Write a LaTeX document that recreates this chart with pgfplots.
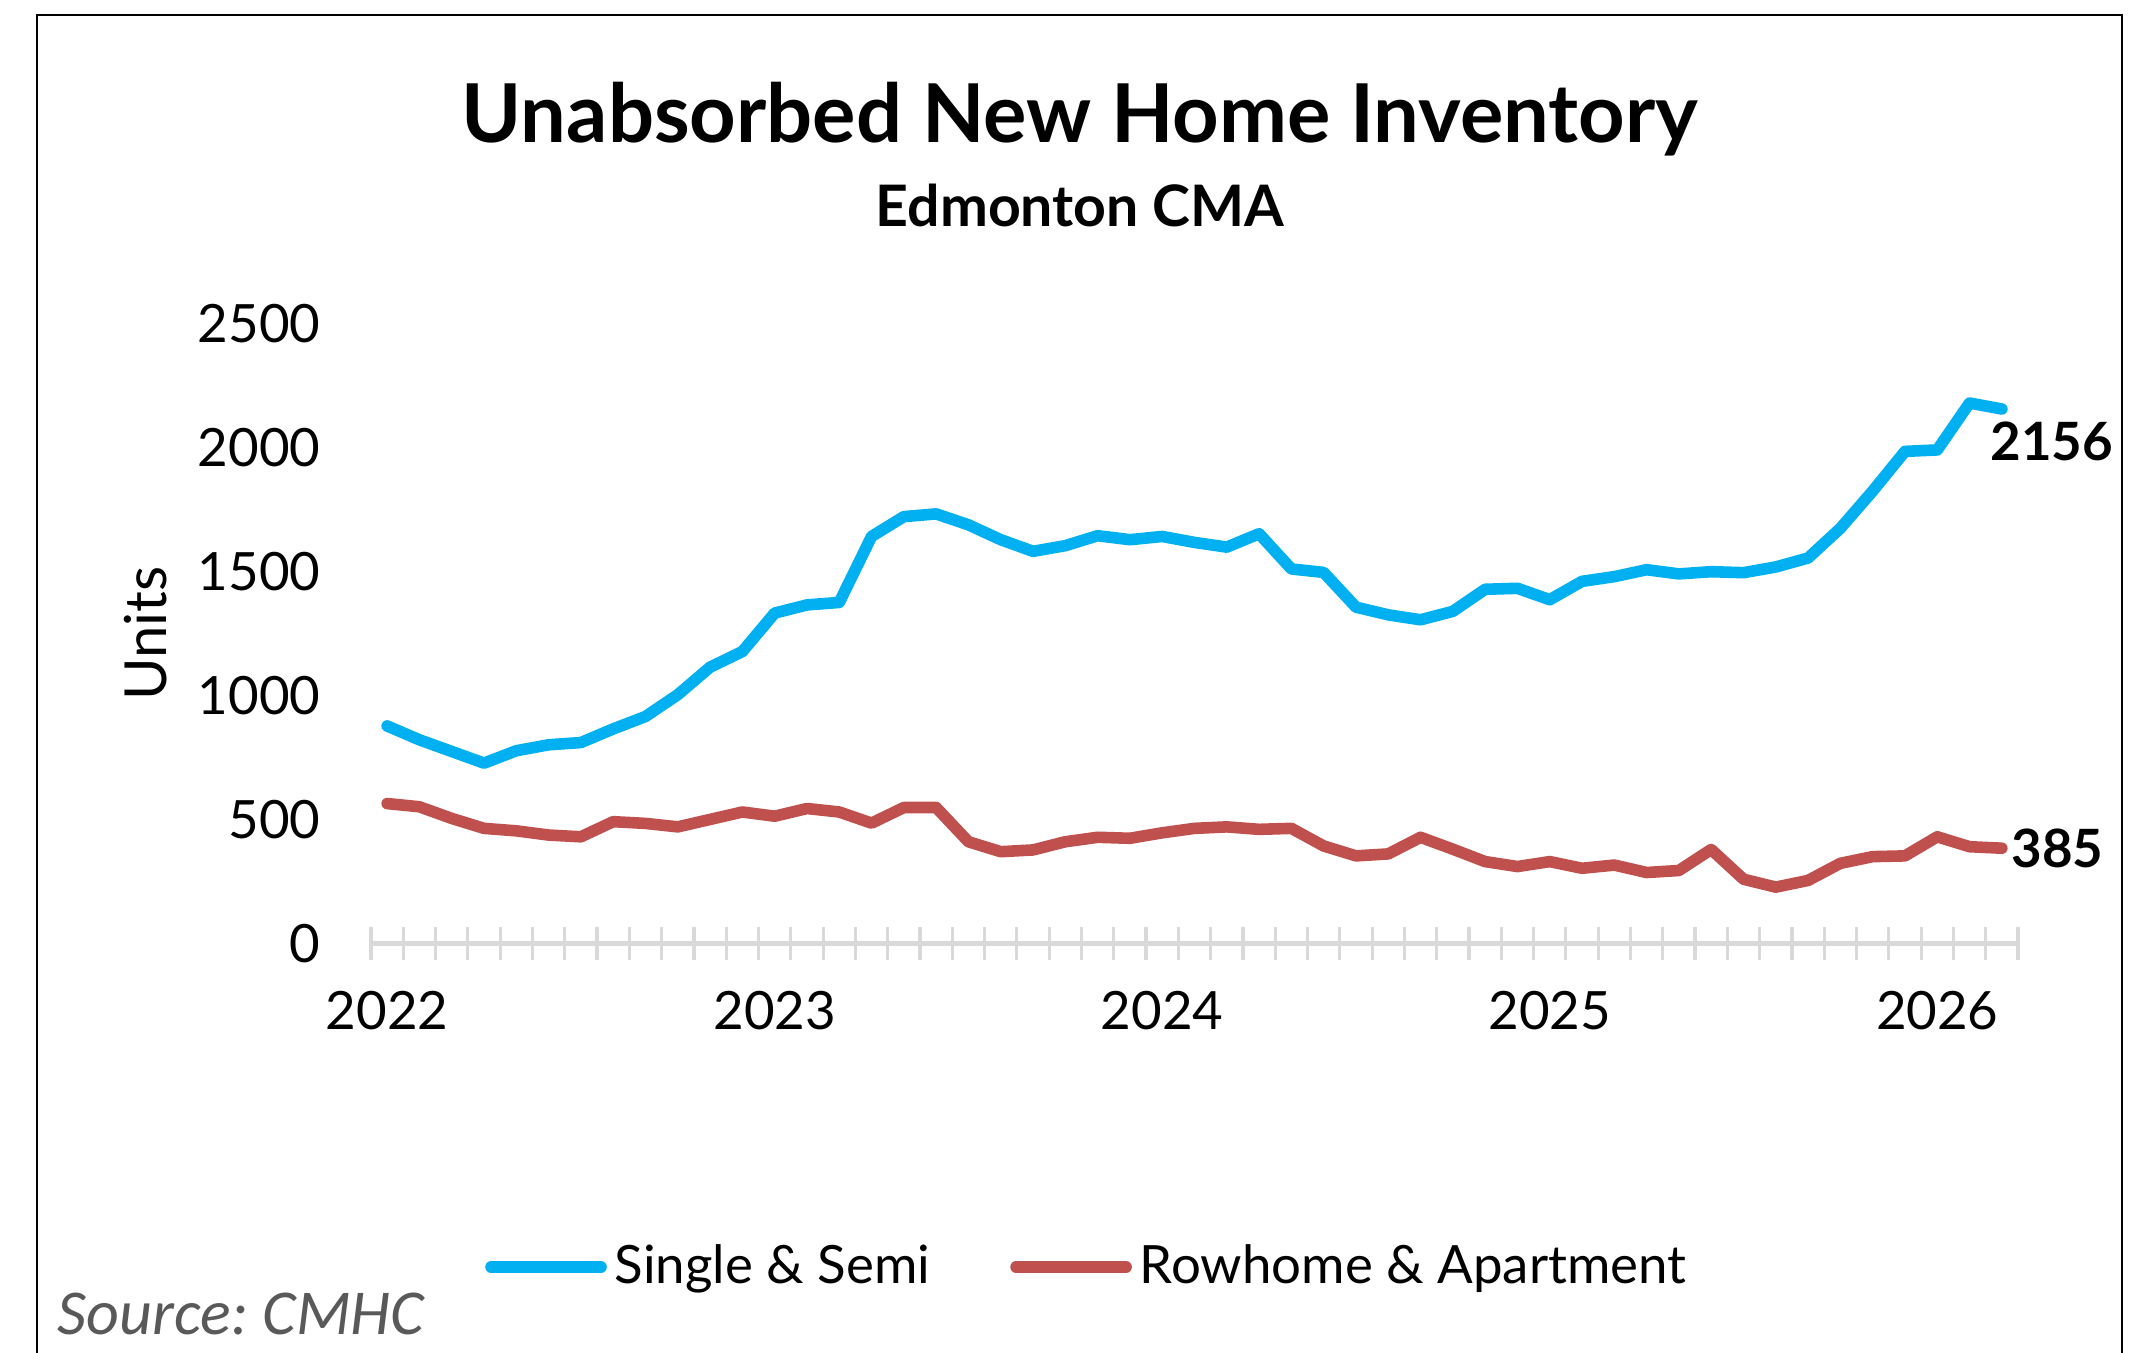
\documentclass[border=0pt]{standalone}
\usepackage{fontspec}
\setmainfont{Lato}
\newfontfamily\srcfont{Carlito}
\usepackage{pgfplots}
\pgfplotsset{compat=1.18}
\definecolor{sblue}{HTML}{00B0F0}
\definecolor{sred}{HTML}{C0504D}
\definecolor{axgray}{HTML}{D9D9D9}
\definecolor{srcgray}{HTML}{595959}
\begin{document}
\begin{tikzpicture}
\useasboundingbox (0,0) rectangle (533.75pt,338pt);
\draw[line width=0.6pt] (9.25pt,-2pt) -- (9.25pt,334.25pt) -- (530.5pt,334.25pt) -- (530.5pt,-2pt);
\node[anchor=base, font=\bfseries\fontsize{20.3}{24}\selectfont] at (270pt,302.25pt) {Unabsorbed New Home Inventory};
\node[anchor=base, font=\bfseries\fontsize{14.3}{17}\selectfont] at (270pt,281.25pt) {Edmonton CMA};
\node[anchor=west, inner sep=0pt, text=srcgray, font=\srcfont\itshape\fontsize{16}{18}\selectfont] at (14.25pt,9.5pt) {Source:~CMHC};
\begin{axis}[
  at={(92.75pt,102.08pt)}, anchor=south west,
  scale only axis, width=411.75pt, height=155pt,
  xmin=-0.5, xmax=50.5, ymin=0, ymax=2500,
  clip=false,
  axis x line*=bottom, axis y line*=left,
  y axis line style={draw=none},
  x axis line style={axgray, line width=1.1pt, -},
  xtick={-0.5,0.5,...,50.5}, xticklabels={},
  xtick style={axgray, line width=0.8pt},
  tick align=center, major tick length=8.25pt,
  extra x ticks={0,12,24,36,48},
  extra x tick labels={2022,2023,2024,2025,2026},
  extra x tick style={major tick length=0pt, xtick style={draw=none}, xticklabel style={yshift=-8.4pt}},
  ytick={0,500,...,2500},
  ytick style={draw=none},
  yticklabel style={xshift=-5pt},
  /pgf/number format/1000 sep={},
  /pgf/number format/assume math mode=true,
  tick label style={font=\fontsize{13.2}{15}\selectfont, text=black},
  ylabel={Units},
  ylabel style={at={(axis description cs:-0.1366,0.5)}, anchor=center, font=\fontsize{14.5}{16}\selectfont},
  legend columns=2,
  legend style={at={(0.4365,-0.5215)}, anchor=center, draw=none, fill=none,
    font=\fontsize{13.2}{15}\selectfont,
    /tikz/every even column/.append style={column sep=18pt}},
  legend image code/.code={\draw[#1, line cap=round] (0pt,0pt) -- (27.5pt,0pt);},
]
\addplot[sblue, line width=2.9pt, line join=round, line cap=round] table {
x y
0 878
1 822
2 775
3 728
4 778
5 802
6 811
7 866
8 916
9 1004
10 1115
11 1178
12 1333
13 1366
14 1376
15 1642
16 1722
17 1733
18 1689
19 1629
20 1582
21 1605
22 1645
23 1629
24 1642
25 1618
26 1599
27 1653
28 1511
29 1497
30 1357
31 1326
32 1306
33 1340
34 1429
35 1433
36 1387
37 1461
38 1480
39 1508
40 1491
41 1500
42 1496
43 1519
44 1555
45 1675
46 1825
47 1985
48 1991
49 2180
50 2156
};
\addlegendentry{Single \& Semi}
\addplot[sred, line width=2.9pt, line join=round, line cap=round] table {
x y
0 565
1 552
2 505
3 465
4 455
5 438
6 431
7 492
8 485
9 471
10 501
11 531
12 514
13 545
14 531
15 486
16 549
17 549
18 411
19 371
20 378
21 411
22 429
23 425
24 447
25 465
26 471
27 461
28 465
29 394
30 354
31 362
32 429
33 381
34 331
35 311
36 331
37 304
38 317
39 287
40 295
41 380
42 260
43 228
44 255
45 324
46 351
47 354
48 431
49 391
50 385
};
\addlegendentry{Rowhome \& Apartment}
\node[anchor=west, inner sep=0pt, font=\bfseries\fontsize{13.2}{15}\selectfont, xshift=2.25pt] at (axis cs:50,385) {385};
\node[anchor=north west, inner sep=0pt, font=\bfseries\fontsize{13.2}{15}\selectfont, xshift=-3pt, yshift=-3pt] at (axis cs:50,2156) {2156};
\end{axis}
\end{tikzpicture}
\end{document}
